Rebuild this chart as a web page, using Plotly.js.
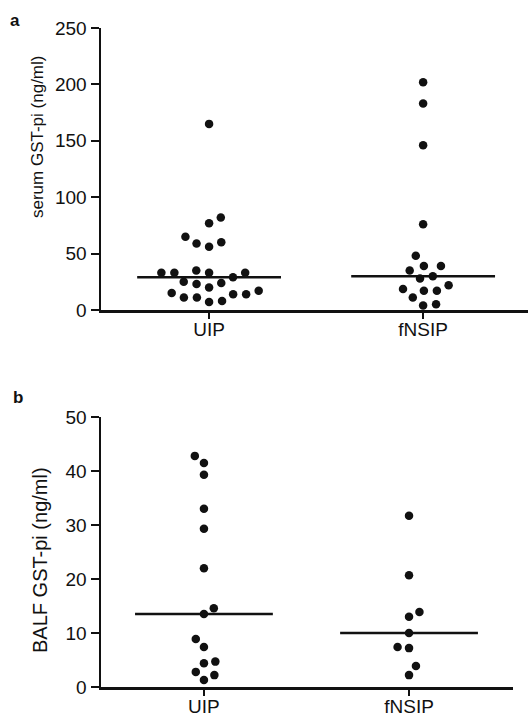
<!DOCTYPE html>
<html>
<head>
<meta charset="utf-8">
<script src="https://cdn.plot.ly/plotly-3.0.1.min.js"></script>
<style>html,body{margin:0;padding:0;background:#fff;}#chart{width:528px;height:718px;}</style>
</head>
<body>
<div id="chart"></div>
<script>
// ---- data ----
const categories = ["UIP", "fNSIP"];
const serumUIP = [165, 82, 77, 65, 59, 56, 60, 33, 35, 33, 33, 29, 33, 25, 23, 20, 24, 15, 14, 11, 7, 8, 11, 14, 17];
const serumFNSIP = [202, 183, 146, 76, 48, 39, 39, 35, 28, 30, 22, 17, 17, 18.6, 11, 4, 5];
const balfUIP = [42.8, 41.5, 39.3, 33, 29.3, 22, 14.6, 13.5, 8.9, 7.4, 4.7, 4.4, 2.8, 2.2, 1.3];
const balfFNSIP = [31.7, 20.7, 13.9, 13, 10, 7.4, 7.2, 3.9, 2.2];
const serumTicks = [0, 50, 100, 150, 200, 250];
const balfTicks = [0, 10, 20, 30, 40, 50];

// ---- geometry of the page ----
const W = 528, H = 718;
const xDomA = [101 / W, 1.0], xRangeA = [-0.505, 1.49];
const yDomA = [1 - 310 / H, 1 - 28 / H], yRangeA = [0, 250];
const xDomB = [101 / W, 513 / W], xRangeB = [-0.502, 1.507];
const yDomB = [1 - 687 / H, 1 - 417 / H], yRangeB = [0, 50];

function median(arr) {
  const s = arr.slice().sort((a, b) => a - b);
  const n = s.length;
  return n % 2 ? s[(n - 1) / 2] : (s[n / 2 - 1] + s[n / 2]) / 2;
}

// beeswarm offsets (in x data units) computed from values and pixel scales
function swarm(vals, pxPerY, pxPerX, D) {
  const idx = vals.map((v, i) => i).sort((a, b) => vals[a] - vals[b]);
  const placed = [];
  const out = new Array(vals.length).fill(0);
  let flip = 1;
  idx.forEach(i => {
    const y = vals[i] * pxPerY;
    const cands = [0];
    placed.forEach(p => {
      const dy = Math.abs(y - p.y);
      if (dy < D) {
        const r = Math.sqrt(D * D - dy * dy);
        cands.push(p.x + r, p.x - r);
      }
    });
    cands.sort((a, b) => (Math.abs(a) - Math.abs(b)) || (flip * (b - a)));
    let chosen = 0;
    for (const c of cands) {
      if (placed.every(p => (c - p.x) ** 2 + (y - p.y) ** 2 >= D * D - 1e-6)) { chosen = c; break; }
    }
    if (chosen !== 0) flip = -flip;
    placed.push({ x: chosen, y: y });
    out[i] = chosen / pxPerX;
  });
  return out;
}

const pxXA = W * (xDomA[1] - xDomA[0]) / (xRangeA[1] - xRangeA[0]);
const pxYA = H * (yDomA[1] - yDomA[0]) / (yRangeA[1] - yRangeA[0]);
const pxXB = W * (xDomB[1] - xDomB[0]) / (xRangeB[1] - xRangeB[0]);
const pxYB = H * (yDomB[1] - yDomB[0]) / (yRangeB[1] - yRangeB[0]);
const halfW = 0.336;

const dotStyle = { color: "#111", size: 8.5 };
const traces = [];
function addGroup(vals, pos, xa, ya, pxY, pxX, D) {
  const off = swarm(vals, pxY, pxX, D);
  traces.push({
    type: "scatter", mode: "markers", xaxis: xa, yaxis: ya,
    x: off.map(o => pos + o), y: vals, marker: dotStyle, cliponaxis: false, hoverinfo: "y"
  });
  const m = median(vals);
  traces.push({
    type: "scatter", mode: "lines", xaxis: xa, yaxis: ya,
    x: [pos - halfW, pos + halfW], y: [m, m], line: { color: "#111", width: 2.5 }, hoverinfo: "skip"
  });
}
addGroup(serumUIP, 0, "x", "y", pxYA, pxXA, 13);
addGroup(serumFNSIP, 1, "x", "y", pxYA, pxXA, 13);
addGroup(balfUIP, 0, "x2", "y2", pxYB, pxXB, 11.5);
addGroup(balfFNSIP, 1, "x2", "y2", pxYB, pxXB, 11.5);

const font = { family: "Liberation Sans, Arial, sans-serif", color: "#111" };
const tickFont = Object.assign({}, font, { size: 19 });
function xAx(dom, rng, anchor) {
  return {
    domain: dom, range: rng, anchor: anchor, tickvals: [0, 1], ticktext: categories,
    showline: true, linecolor: "#111", linewidth: 2.5, ticks: "outside", ticklen: 6, tickwidth: 2,
    tickcolor: "#111", showgrid: false, zeroline: false, tickfont: tickFont, fixedrange: true,
    ticklabelstandoff: -5
  };
}
function yAx(dom, rng, anchor, ticks) {
  return {
    domain: dom, range: rng, anchor: anchor, tickvals: ticks,
    showline: true, linecolor: "#111", linewidth: 2.5, ticks: "outside", ticklen: 8, tickwidth: 2,
    tickcolor: "#111", showgrid: false, zeroline: false, tickfont: tickFont, fixedrange: true
  };
}

const layout = {
  width: W, height: H, margin: { l: 0, r: 0, t: 0, b: 0 },
  paper_bgcolor: "#fff", plot_bgcolor: "#fff", showlegend: false,
  xaxis: xAx(xDomA, xRangeA, "y"),
  yaxis: yAx(yDomA, yRangeA, "x", serumTicks),
  xaxis2: xAx(xDomB, xRangeB, "y2"),
  yaxis2: yAx(yDomB, yRangeB, "x2", balfTicks),
  annotations: [
    { text: "<b>a</b>", xref: "paper", yref: "paper", x: 15 / W, y: 1 - 20 / H, showarrow: false,
      font: Object.assign({}, font, { size: 17 }), xanchor: "center", yanchor: "middle" },
    { text: "<b>b</b>", xref: "paper", yref: "paper", x: 18 / W, y: 1 - 398 / H, showarrow: false,
      font: Object.assign({}, font, { size: 17 }), xanchor: "center", yanchor: "middle" },
    { text: "serum GST-pi (ng/ml)", xref: "paper", yref: "paper", x: 37 / W, y: 1 - 137 / H,
      textangle: -90, showarrow: false, font: Object.assign({}, font, { size: 17 }),
      xanchor: "center", yanchor: "middle" },
    { text: "BALF GST-pi (ng/ml)", xref: "paper", yref: "paper", x: 40 / W, y: 1 - 560 / H,
      textangle: -90, showarrow: false, font: Object.assign({}, font, { size: 20 }),
      xanchor: "center", yanchor: "middle" }
  ]
};

Plotly.newPlot("chart", traces, layout, { staticPlot: true, displayModeBar: false });
</script>
</body>
</html>
